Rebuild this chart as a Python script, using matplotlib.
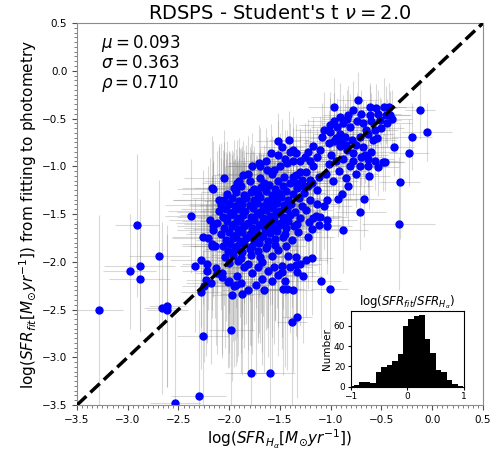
import numpy as np
import matplotlib
matplotlib.use("Agg")
import matplotlib.pyplot as plt
from matplotlib.ticker import MultipleLocator

# (log SFR_Halpha, log SFR_fit, x error, y error) per galaxy
outer_pts = [
    (-3.28, -2.51, 0.23, 1.00), (-2.91, -1.62, 0.22, 0.75), (-2.98, -2.10, 0.26, 0.60),
    (-2.88, -2.04, 0.35, 0.70), (-2.88, -2.18, 0.30, 0.55), (-2.69, -1.94, 0.30, 0.80),
    (-2.66, -2.48, 0.18, 0.90), (-2.61, -2.46, 0.18, 0.85), (-2.61, -2.51, 0.20, 0.80),
    (-2.38, -1.52, 0.25, 0.60), (-2.34, -2.04, 0.15, 0.70), (-2.30, -3.41, 0.27, 0.90),
    (-2.53, -3.48, 0.25, 0.90), (-2.28, -2.32, 0.20, 0.80), (-2.26, -2.78, 0.25, 0.90),
    (-1.98, -2.71, 0.22, 0.85), (-1.79, -3.17, 0.25, 0.80), (-1.60, -3.17, 0.25, 0.90),
    (-1.38, -2.63, 0.15, 0.90), (-1.33, -2.58, 0.15, 0.85), (-1.10, -2.20, 0.20, 0.60),
    (-1.01, -2.29, 0.18, 0.55), (-1.18, -1.96, 0.20, 0.60), (-0.88, -1.67, 0.25, 0.45),
    (-0.33, -1.60, 0.36, 0.70), (-0.32, -1.16, 0.20, 0.60), (-0.71, -1.48, 0.25, 0.40),
    (-0.67, -1.34, 0.20, 0.40), (-0.23, -0.86, 0.20, 0.35), (-0.20, -0.69, 0.20, 0.35),
    (-0.055, -0.64, 0.25, 0.30), (-0.12, -0.41, 0.15, 0.30), (-0.38, -0.80, 0.20, 0.30),
    (-0.53, -1.01, 0.20, 0.30), (-0.49, -0.96, 0.20, 0.30), (-0.47, -0.96, 0.20, 0.30),
]

core_pts = [
    (-1.86, -1.09, 0.30, 0.35), (-1.70, -1.12, 0.22, 0.30), (-1.58, -1.08, 0.25, 0.40),
    (-1.46, -1.11, 0.18, 0.30), (-1.34, -1.09, 0.20, 0.25),
    (-1.92, -1.17, 0.35, 0.45), (-1.80, -1.15, 0.25, 0.35), (-1.66, -1.18, 0.30, 0.40),
    (-1.52, -1.15, 0.20, 0.30), (-1.40, -1.17, 0.22, 0.35), (-1.28, -1.14, 0.18, 0.25),
    (-1.18, -1.17, 0.20, 0.30),
    (-1.95, -1.23, 0.40, 0.50), (-1.88, -1.21, 0.30, 0.40), (-1.76, -1.24, 0.25, 0.45),
    (-1.69, -1.22, 0.35, 0.35), (-1.61, -1.20, 0.20, 0.40), (-1.55, -1.24, 0.28, 0.30),
    (-1.47, -1.21, 0.22, 0.35), (-1.33, -1.23, 0.18, 0.30), (-1.22, -1.21, 0.25, 0.30),
    (-2.02, -1.29, 0.45, 0.55), (-1.93, -1.27, 0.35, 0.45), (-1.85, -1.30, 0.30, 0.40),
    (-1.79, -1.27, 0.25, 0.50), (-1.72, -1.29, 0.40, 0.35), (-1.64, -1.26, 0.22, 0.40),
    (-1.58, -1.30, 0.30, 0.45), (-1.51, -1.28, 0.25, 0.35), (-1.44, -1.26, 0.20, 0.30),
    (-1.37, -1.29, 0.28, 0.40), (-1.26, -1.28, 0.20, 0.30),
    (-2.05, -1.35, 0.50, 0.60), (-1.97, -1.33, 0.40, 0.50), (-1.90, -1.36, 0.35, 0.45),
    (-1.83, -1.33, 0.30, 0.55), (-1.76, -1.35, 0.45, 0.40), (-1.70, -1.32, 0.25, 0.45),
    (-1.63, -1.36, 0.30, 0.50), (-1.56, -1.34, 0.35, 0.40), (-1.49, -1.32, 0.22, 0.35),
    (-1.42, -1.35, 0.25, 0.45), (-1.31, -1.33, 0.20, 0.35), (-1.20, -1.35, 0.22, 0.30),
    (-2.08, -1.41, 0.55, 0.65), (-2.00, -1.39, 0.40, 0.55), (-1.94, -1.42, 0.45, 0.50),
    (-1.87, -1.39, 0.30, 0.60), (-1.80, -1.41, 0.50, 0.45), (-1.73, -1.38, 0.35, 0.50),
    (-1.67, -1.42, 0.40, 0.55), (-1.60, -1.40, 0.30, 0.45), (-1.53, -1.38, 0.25, 0.50),
    (-1.46, -1.41, 0.35, 0.40), (-1.39, -1.39, 0.22, 0.45), (-1.28, -1.42, 0.25, 0.35),
    (-1.14, -1.40, 0.20, 0.30),
    (-2.10, -1.47, 0.50, 0.70), (-2.03, -1.45, 0.45, 0.60), (-1.96, -1.48, 0.55, 0.55),
    (-1.90, -1.45, 0.35, 0.65), (-1.84, -1.47, 0.45, 0.50), (-1.77, -1.44, 0.40, 0.60),
    (-1.70, -1.48, 0.50, 0.55), (-1.64, -1.46, 0.35, 0.50), (-1.57, -1.44, 0.30, 0.60),
    (-1.50, -1.47, 0.40, 0.45), (-1.43, -1.45, 0.25, 0.50), (-1.35, -1.48, 0.30, 0.40),
    (-1.24, -1.46, 0.25, 0.35),
    (-2.06, -1.53, 0.45, 0.70), (-1.99, -1.51, 0.50, 0.65), (-1.92, -1.54, 0.40, 0.60),
    (-1.86, -1.51, 0.55, 0.55), (-1.79, -1.53, 0.35, 0.70), (-1.73, -1.50, 0.45, 0.60),
    (-1.67, -1.54, 0.40, 0.55), (-1.60, -1.52, 0.50, 0.65), (-1.54, -1.50, 0.30, 0.50),
    (-1.47, -1.53, 0.35, 0.60), (-1.40, -1.51, 0.28, 0.45), (-1.30, -1.54, 0.30, 0.50),
    (-1.15, -1.52, 0.25, 0.40),
    (-2.12, -1.59, 0.40, 0.75), (-2.02, -1.57, 0.45, 0.70), (-1.95, -1.60, 0.50, 0.65),
    (-1.89, -1.57, 0.40, 0.75), (-1.82, -1.59, 0.35, 0.60), (-1.76, -1.56, 0.45, 0.70),
    (-1.69, -1.60, 0.40, 0.65), (-1.62, -1.58, 0.30, 0.75), (-1.56, -1.56, 0.35, 0.60),
    (-1.49, -1.59, 0.40, 0.70), (-1.42, -1.57, 0.25, 0.55), (-1.33, -1.60, 0.30, 0.60),
    (-1.21, -1.58, 0.22, 0.45),
    (-2.05, -1.65, 0.40, 0.80), (-1.97, -1.63, 0.35, 0.75), (-1.91, -1.66, 0.45, 0.70),
    (-1.85, -1.63, 0.30, 0.80), (-1.78, -1.65, 0.40, 0.65), (-1.71, -1.62, 0.35, 0.75),
    (-1.65, -1.66, 0.30, 0.70), (-1.58, -1.64, 0.40, 0.80), (-1.51, -1.62, 0.25, 0.65),
    (-1.44, -1.65, 0.30, 0.70), (-1.36, -1.63, 0.22, 0.55),
    (-2.08, -1.71, 0.35, 0.80), (-2.00, -1.69, 0.40, 0.85), (-1.93, -1.72, 0.30, 0.75),
    (-1.87, -1.69, 0.35, 0.85), (-1.80, -1.71, 0.30, 0.70), (-1.74, -1.68, 0.40, 0.80),
    (-1.67, -1.72, 0.25, 0.85), (-1.60, -1.70, 0.35, 0.75), (-1.53, -1.68, 0.30, 0.80),
    (-1.45, -1.71, 0.25, 0.65), (-1.32, -1.69, 0.22, 0.60),
    (-2.03, -1.77, 0.30, 0.85), (-1.96, -1.75, 0.35, 0.90), (-1.89, -1.78, 0.30, 0.80),
    (-1.83, -1.75, 0.25, 0.90), (-1.76, -1.77, 0.35, 0.85), (-1.69, -1.74, 0.30, 0.80),
    (-1.62, -1.78, 0.25, 0.90), (-1.55, -1.76, 0.30, 0.85), (-1.47, -1.74, 0.22, 0.75),
    (-1.38, -1.77, 0.20, 0.70),
    (-2.06, -1.83, 0.30, 0.90), (-1.99, -1.81, 0.25, 0.85), (-1.92, -1.84, 0.30, 0.95),
    (-1.85, -1.81, 0.25, 0.85), (-1.78, -1.83, 0.30, 0.90), (-1.71, -1.80, 0.25, 0.95),
    (-1.63, -1.84, 0.30, 0.85), (-1.55, -1.82, 0.22, 0.80), (-1.44, -1.83, 0.20, 0.75),
    (-2.01, -1.89, 0.25, 0.90), (-1.94, -1.87, 0.30, 0.95), (-1.87, -1.90, 0.25, 0.90),
    (-1.80, -1.87, 0.28, 1.00), (-1.72, -1.89, 0.25, 0.90), (-1.64, -1.86, 0.22, 0.85),
    (-1.52, -1.88, 0.20, 0.80),
    (-2.04, -1.95, 0.25, 0.95), (-1.96, -1.93, 0.22, 0.90), (-1.88, -1.96, 0.25, 1.00),
    (-1.79, -1.93, 0.20, 0.95), (-1.70, -1.95, 0.22, 0.90), (-1.58, -1.94, 0.20, 0.85),
    (-2.00, -2.01, 0.22, 0.95), (-1.91, -1.99, 0.20, 1.00), (-1.82, -2.02, 0.22, 0.90),
    (-1.68, -2.00, 0.20, 0.95),
]

lower_pts = [
    (-2.13, -2.07, 0.25, 0.80), (-2.07, -2.12, 0.22, 0.85), (-2.00, -2.20, 0.25, 0.90),
    (-1.95, -2.25, 0.20, 0.85), (-1.92, -2.15, 0.25, 0.90), (-1.88, -2.22, 0.22, 0.95),
    (-1.85, -2.05, 0.20, 0.85), (-1.82, -2.30, 0.25, 0.90), (-1.78, -2.12, 0.22, 0.85),
    (-1.74, -2.24, 0.20, 0.95), (-1.72, -2.05, 0.22, 0.80), (-1.68, -2.18, 0.25, 0.90),
    (-1.66, -2.30, 0.20, 0.85), (-1.62, -2.10, 0.22, 0.90), (-1.58, -2.20, 0.20, 0.95),
    (-1.56, -2.06, 0.22, 0.80), (-1.52, -2.14, 0.20, 0.85), (-1.48, -2.04, 0.25, 0.75),
    (-1.45, -2.20, 0.20, 0.90), (-1.40, -2.05, 0.22, 0.70), (-1.37, -2.30, 0.20, 0.85),
    (-1.33, -2.11, 0.18, 0.70), (-1.30, -2.02, 0.20, 0.65), (-1.27, -2.15, 0.18, 0.70),
    (-1.24, -1.98, 0.20, 0.60), (-2.22, -2.10, 0.25, 0.75), (-2.28, -1.98, 0.30, 0.70),
    (-2.25, -2.25, 0.22, 0.80), (-2.18, -2.22, 0.25, 0.85), (-1.97, -2.35, 0.20, 0.90),
    (-1.87, -2.34, 0.22, 0.85), (-1.47, -2.29, 0.18, 0.90), (-1.43, -2.28, 0.18, 0.85),
    (-2.23, -2.19, 0.20, 0.80), (-2.19, -1.56, 0.40, 0.65), (-2.16, -1.63, 0.35, 0.70),
    (-2.26, -1.74, 0.30, 0.70), (-2.21, -1.75, 0.35, 0.75), (-2.17, -1.81, 0.30, 0.70),
    (-2.14, -1.84, 0.25, 0.75), (-2.22, -2.02, 0.25, 0.80), (-2.17, -1.23, 0.30, 0.55),
    (-2.16, -1.67, 0.35, 0.70), (-2.17, -1.84, 0.30, 0.75), (-2.12, -2.12, 0.22, 0.85),
    (-2.07, -2.16, 0.20, 0.85), (-2.01, -2.21, 0.22, 0.90), (-1.93, -2.24, 0.20, 0.85),
    (-1.22, -1.74, 0.25, 0.55), (-1.34, -1.95, 0.20, 0.70), (-1.42, -1.94, 0.22, 0.70),
    (-1.34, -2.03, 0.20, 0.75), (-1.48, -2.11, 0.20, 0.80), (-1.18, -1.66, 0.25, 0.50),
    (-1.12, -1.62, 0.22, 0.50),
]

upper_pts = [
    (-0.97, -0.38, 0.25, 0.30), (-0.73, -0.31, 0.20, 0.30), (-0.61, -0.38, 0.25, 0.25),
    (-0.55, -0.39, 0.20, 0.25), (-0.48, -0.38, 0.22, 0.30), (-0.43, -0.38, 0.25, 0.25),
    (-0.78, -0.41, 0.22, 0.30), (-0.83, -0.46, 0.25, 0.30), (-0.70, -0.45, 0.20, 0.25),
    (-0.61, -0.46, 0.25, 0.30), (-0.53, -0.45, 0.22, 0.25), (-0.46, -0.46, 0.25, 0.30),
    (-0.42, -0.46, 0.20, 0.25), (-0.84, -0.50, 0.25, 0.30), (-0.91, -0.48, 0.28, 0.35),
    (-0.97, -0.53, 0.25, 0.30), (-1.01, -0.57, 0.30, 0.35), (-0.94, -0.59, 0.25, 0.30),
    (-0.88, -0.55, 0.22, 0.30), (-0.81, -0.59, 0.25, 0.35), (-0.74, -0.53, 0.20, 0.30),
    (-0.68, -0.55, 0.22, 0.25), (-0.60, -0.53, 0.25, 0.30), (-0.51, -0.52, 0.20, 0.25),
    (-0.56, -0.62, 0.22, 0.30), (-0.63, -0.66, 0.25, 0.30), (-0.71, -0.69, 0.22, 0.35),
    (-0.79, -0.72, 0.25, 0.30), (-0.86, -0.69, 0.28, 0.35), (-0.91, -0.66, 0.25, 0.30),
    (-1.01, -0.64, 0.30, 0.35), (-1.07, -0.62, 0.28, 0.40), (-1.09, -0.69, 0.30, 0.35),
    (-1.02, -0.76, 0.25, 0.35), (-0.97, -0.74, 0.28, 0.30), (-0.91, -0.79, 0.25, 0.35),
    (-0.84, -0.83, 0.22, 0.30), (-0.78, -0.86, 0.25, 0.35), (-0.88, -0.92, 0.28, 0.35),
    (-0.70, -0.90, 0.22, 0.30), (-0.63, -0.92, 0.25, 0.30), (-0.81, -1.00, 0.25, 0.35),
    (-0.71, -1.00, 0.22, 0.30), (-0.63, -1.00, 0.20, 0.30),
    (-0.83, -1.21, 0.25, 0.40), (-0.93, -1.34, 0.28, 0.40), (-0.89, -1.29, 0.25, 0.35),
    (-1.04, -1.35, 0.30, 0.40), (-1.07, -1.42, 0.28, 0.45), (-1.04, -1.56, 0.30, 0.45),
    (-1.04, -1.63, 0.25, 0.50), (-1.11, -1.53, 0.28, 0.45), (-1.17, -1.54, 0.25, 0.45),
    (-1.14, -1.25, 0.30, 0.40), (-1.12, -1.11, 0.28, 0.40), (-1.24, -1.06, 0.25, 0.35),
    (-1.30, -1.06, 0.28, 0.40), (-1.37, -1.11, 0.25, 0.35), (-1.34, -1.18, 0.30, 0.40),
    (-1.27, -1.21, 0.25, 0.35), (-1.20, -1.14, 0.28, 0.40), (-1.17, -1.00, 0.25, 0.35),
    (-1.20, -0.95, 0.22, 0.35), (-1.14, -0.90, 0.25, 0.30), (-1.11, -0.83, 0.22, 0.35),
    (-1.17, -0.79, 0.25, 0.30), (-1.22, -0.85, 0.28, 0.35), (-1.25, -0.90, 0.25, 0.35),
    (-1.34, -0.86, 0.22, 0.30), (-1.30, -0.95, 0.25, 0.35), (-1.40, -0.85, 0.22, 0.30),
    (-1.37, -0.95, 0.25, 0.35), (-1.43, -0.97, 0.22, 0.35), (-1.50, -1.00, 0.25, 0.35),
    (-0.95, -0.70, 0.25, 0.30), (-0.90, -0.75, 0.22, 0.30), (-0.85, -0.78, 0.25, 0.35),
    (-0.75, -0.78, 0.22, 0.30), (-0.68, -0.80, 0.25, 0.30), (-0.66, -0.88, 0.22, 0.30),
    (-0.60, -0.85, 0.25, 0.30), (-0.58, -0.72, 0.22, 0.30), (-0.54, -0.70, 0.20, 0.25),
    (-0.50, -0.60, 0.22, 0.30), (-0.45, -0.55, 0.25, 0.25), (-0.40, -0.50, 0.20, 0.30),
    (-0.65, -0.62, 0.22, 0.30), (-0.78, -0.95, 0.25, 0.35), (-0.95, -0.95, 0.28, 0.35),
    (-1.00, -0.88, 0.25, 0.35), (-0.92, -1.05, 0.28, 0.40), (-0.98, -1.15, 0.25, 0.40),
    (-1.05, -1.08, 0.28, 0.35), (-1.02, -0.98, 0.25, 0.35), (-0.75, -1.08, 0.22, 0.35),
    (-0.85, -1.12, 0.25, 0.40), (-0.62, -1.10, 0.20, 0.35), (-0.56, -0.95, 0.22, 0.30),
    (-1.78, -1.00, 0.25, 0.35), (-1.70, -1.00, 0.30, 0.40), (-1.63, -1.04, 0.25, 0.35),
    (-1.56, -1.04, 0.22, 0.30), (-1.52, -0.88, 0.20, 0.35), (-1.59, -0.86, 0.25, 0.30),
    (-1.52, -0.74, 0.22, 0.30), (-1.41, -0.72, 0.20, 0.30), (-1.37, -0.83, 0.22, 0.35),
    (-1.64, -0.95, 0.28, 0.35), (-1.71, -0.97, 0.30, 0.40), (-1.45, -0.92, 0.20, 0.30),
    (-1.48, -0.80, 0.22, 0.30), (-1.82, -1.08, 0.30, 0.40), (-1.90, -1.15, 0.35, 0.45),
    (-2.05, -1.12, 0.40, 0.50), (-2.16, -1.24, 0.35, 0.50), (-2.10, -1.35, 0.45, 0.55),
]

# histogram of log(SFR_fit / SFR_Halpha)
hist_lo = -1.047
hist_width = 0.0973
hist_counts = [1, 2, 5, 5, 4, 15, 19, 21, 25, 32, 60, 67, 70, 71, 47, 33, 17, 15, 7, 3, 1]

stats_text = "$\\mu = 0.093$\n$\\sigma = 0.363$\n$\\rho = 0.710$"

pts = np.array(outer_pts + core_pts + lower_pts + upper_pts)
x, y, xe, ye = pts.T

fig = plt.figure(figsize=(4.99, 4.54), dpi=100)
ax = fig.add_axes([0.1543, 0.1079, 0.8136, 0.8414])

ax.errorbar(x, y, xerr=xe, yerr=ye, fmt='none', ecolor='gray',
            elinewidth=0.8, alpha=0.3, zorder=1)
ax.plot(x, y, 'o', color='blue', ms=5, zorder=2)
lims = [-3.5, 0.5]
ax.plot(lims, lims, 'k--', lw=2.5, zorder=3)

ax.set_xlim(lims)
ax.set_ylim(lims)
ax.xaxis.set_major_locator(MultipleLocator(0.5))
ax.yaxis.set_major_locator(MultipleLocator(0.5))
ax.xaxis.set_minor_locator(MultipleLocator(0.05))
ax.yaxis.set_minor_locator(MultipleLocator(0.05))
ax.tick_params(which='major', labelsize=7.5, length=3.5, color='0.3')
ax.tick_params(which='minor', length=2, color='0.4')
for s in ax.spines.values():
    s.set_color('0.55')

ax.set_title("RDSPS - Student's t $\\nu = 2.0$", fontsize=14, pad=2)
ax.set_xlabel("log($SFR_{H_{\\alpha}}[M_{\\odot}yr^{-1}]$)", fontsize=11, labelpad=2)
ax.set_ylabel("log($SFR_{fit}[M_{\\odot}yr^{-1}]$) from fitting to photometry",
              fontsize=11, labelpad=2)
ax.text(0.06, 0.975, stats_text, transform=ax.transAxes, va='top', ha='left',
        fontsize=12, linespacing=1.05)

# inset histogram
ins = fig.add_axes([0.703, 0.148, 0.226, 0.167])
edges = hist_lo + hist_width * np.arange(len(hist_counts))
ins.bar(edges, hist_counts, width=hist_width, align='edge', color='k')
ins.set_xlim(-1, 1)
ins.set_xticks([-1, 0, 1])
ins.set_yticks([0, 20, 40, 60])
ins.tick_params(labelsize=6.5, length=2.5, pad=1.5)
ins.set_ylabel("Number", fontsize=7.5, labelpad=1)
ins.set_title("log($SFR_{fit}/SFR_{H_{\\alpha}}$)", fontsize=8.5, pad=3)

fig.savefig("out.png", dpi=100)
